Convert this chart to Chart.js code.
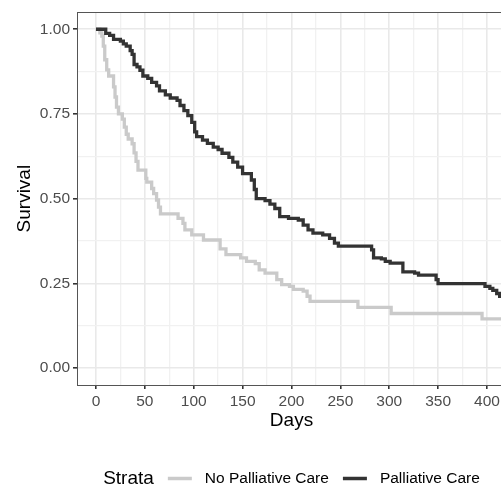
<!DOCTYPE html>
<html><head><meta charset="utf-8">
<script src="https://cdn.jsdelivr.net/npm/chart.js@4.4.1/dist/chart.umd.min.js"></script>
<style>
html,body{margin:0;padding:0;overflow:hidden;background:#fff;width:501px;height:485px}
#wrap{width:520px;height:485px}
</style></head><body>
<div id="wrap"><canvas id="c" width="520" height="485"></canvas></div>
<script>
const seriesNames = ['No Palliative Care', 'Palliative Care'];
const legendTitle = 'Strata';
const xTitle = 'Days';
const yTitle = 'Survival';

const palDays = [0,10,14,18,25,28,31,35,37,39,42,45,48,53,57,62,65,71,76,83,86,90,94,98,101,103,109,114,120,125,129,136,140,145,150,159,162,164,173,178,183,188,197,207,212,217,222,232,239,244,248,282,284,292,296,301,314,326,330,348,350,398,403,406,410,413,418];
const palSurv = [1.000,0.988,0.982,0.970,0.965,0.957,0.950,0.937,0.926,0.896,0.889,0.879,0.862,0.855,0.843,0.833,0.818,0.806,0.797,0.790,0.775,0.760,0.745,0.725,0.697,0.683,0.673,0.663,0.652,0.645,0.634,0.622,0.608,0.593,0.574,0.555,0.527,0.500,0.494,0.484,0.471,0.447,0.442,0.437,0.422,0.408,0.398,0.393,0.383,0.369,0.360,0.349,0.325,0.322,0.315,0.310,0.284,0.280,0.274,0.261,0.249,0.241,0.235,0.229,0.220,0.212,0.205];

const noPalDays = [0,4,6,7.5,9,11,13,18,19.5,21,23,27,29,31,33,37,39,41,43,51,52,57,59,62,64,66,84,89,91,98,110,127,133,148,154,163,167,173,185,190,198,202,212,216,219,268,302,395,418];
const noPalSurv = [1.000,0.989,0.980,0.950,0.910,0.880,0.862,0.830,0.800,0.770,0.750,0.735,0.711,0.690,0.676,0.662,0.635,0.610,0.584,0.560,0.549,0.530,0.515,0.496,0.475,0.455,0.442,0.427,0.408,0.393,0.378,0.352,0.335,0.325,0.315,0.308,0.290,0.280,0.261,0.246,0.241,0.232,0.227,0.212,0.197,0.179,0.161,0.145,0.145];

const xTicks = [0,50,100,150,200,250,300,350,400];
const xTickLabels = ['0','50','100','150','200','250','300','350','400'];
const xMinorTicks = [25,75,125,175,225,275,325,375];
const yTicks = [0,0.25,0.5,0.75,1];
const yTickLabels = ['0.00','0.25','0.50','0.75','1.00'];
const yMinorTicks = [0.125,0.375,0.625,0.875];

const FONT = '"Liberation Sans", Arial, Helvetica, sans-serif';
const colNo = '#cacaca';
const colPal = '#333333';

function toPts(xs, ys){ return xs.map((x,i)=>({x:x, y:ys[i]})); }

function tickSetup(major, minor, labels){
  return {
    afterBuildTicks(scale){
      scale.ticks = major.concat(minor).sort((a,b)=>a-b).map(v=>({value:v}));
    },
    label(v){ const i = major.indexOf(v); return i>=0 ? labels[i] : ''; },
    isMajor(v){ return major.indexOf(v) >= 0; }
  };
}
const xt = tickSetup(xTicks, xMinorTicks, xTickLabels);
const yt = tickSetup(yTicks, yMinorTicks, yTickLabels);

const borderPlugin = {
  id: 'panelBorder',
  afterDatasetsDraw(chart){
    const {ctx, chartArea:a} = chart;
    ctx.save();
    ctx.strokeStyle = '#555555';
    ctx.lineWidth = 1;
    ctx.strokeRect(Math.round(a.left)+0.5, Math.round(a.top)+0.5, Math.round(a.right-a.left), Math.round(a.bottom-a.top));
    ctx.restore();
  }
};

const legendPlugin = {
  id: 'strataLegend',
  afterDraw(chart){
    const {ctx, chartArea:a} = chart;
    const y = chart.height - 6.5;
    ctx.save();
    ctx.textBaseline = 'middle';
    ctx.textAlign = 'left';
    ctx.font = '19px ' + FONT;
    const tW = ctx.measureText(legendTitle).width;
    ctx.font = '15.5px ' + FONT;
    const w1 = ctx.measureText(seriesNames[0]).width;
    const w2 = ctx.measureText(seriesNames[1]).width;
    const keyW = 24, gTK = 14, gKL = 13, gLK = 14;
    const total = tW + gTK + keyW + gKL + w1 + gLK + keyW + gKL + w2;
    let x = (a.left + a.right)/2 - total/2;
    ctx.fillStyle = '#000';
    ctx.font = '19px ' + FONT;
    ctx.fillText(legendTitle, x, y);
    x += tW + gTK;
    const cols = [colNo, colPal];
    const ws = [w1, w2];
    for (let i=0;i<2;i++){
      ctx.strokeStyle = cols[i];
      ctx.lineWidth = 3.5;
      ctx.beginPath(); ctx.moveTo(x, y); ctx.lineTo(x+keyW, y); ctx.stroke();
      x += keyW + gKL;
      ctx.font = '15.5px ' + FONT;
      ctx.fillStyle = '#000';
      ctx.fillText(seriesNames[i], x, y);
      x += ws[i] + gLK;
    }
    ctx.restore();
  }
};

new Chart(document.getElementById('c'), {
  type: 'line',
  data: {
    datasets: [
      { label: seriesNames[1], data: toPts(palDays, palSurv), borderColor: colPal, borderWidth: 3.3,
        stepped: true, pointRadius: 0, fill: false, order: 0, borderCapStyle: 'butt', borderJoinStyle: 'miter' },
      { label: seriesNames[0], data: toPts(noPalDays, noPalSurv), borderColor: colNo, borderWidth: 3.3,
        stepped: true, pointRadius: 0, fill: false, order: 1, borderCapStyle: 'butt', borderJoinStyle: 'miter' }
    ]
  },
  options: {
    responsive: false,
    animation: false,
    layout: { padding: { top: 11, left: 0, right: 14, bottom: 52.6 } },
    plugins: { legend: { display: false }, tooltip: { enabled: false } },
    scales: {
      x: {
        type: 'linear', min: -19.4, max: 419.5,
        afterBuildTicks: xt.afterBuildTicks,
        afterFit(s){ s.height = 47.4; },
        ticks: { autoSkip: false, maxRotation: 0, padding: 3, color: '#4d4d4d',
          font: { family: FONT, size: 15.5 }, callback: (v)=>xt.label(v) },
        grid: { color: (c)=> xt.isMajor(c.tick.value) ? '#e9e9e9' : '#f1f1f1',
          lineWidth: (c)=> xt.isMajor(c.tick.value) ? 1.6 : 1.3,
          tickColor: (c)=> xt.isMajor(c.tick.value) ? '#333333' : 'rgba(0,0,0,0)',
          tickLength: 4, drawTicks: true },
        border: { display: true, color: '#555555', width: 1 },
        title: { display: true, text: xTitle, color: '#000', font: { family: FONT, size: 19 }, padding: { top: 0, bottom: 0 } }
      },
      y: {
        type: 'linear', min: -0.05, max: 1.05,
        afterBuildTicks: yt.afterBuildTicks,
        afterFit(s){ s.width = 77; },
        ticks: { autoSkip: false, padding: 3, color: '#4d4d4d',
          font: { family: FONT, size: 15.5 }, callback: (v)=>yt.label(v) },
        grid: { color: (c)=> yt.isMajor(c.tick.value) ? '#e9e9e9' : '#f1f1f1',
          lineWidth: (c)=> yt.isMajor(c.tick.value) ? 1.6 : 1.3,
          tickColor: (c)=> yt.isMajor(c.tick.value) ? '#333333' : 'rgba(0,0,0,0)',
          tickLength: 4, drawTicks: true },
        border: { display: true, color: '#555555', width: 1 },
        title: { display: true, text: yTitle, color: '#000', font: { family: FONT, size: 19 }, padding: { top: 13.6, bottom: 0 } }
      }
    }
  },
  plugins: [borderPlugin, legendPlugin]
});
</script>
</body></html>
